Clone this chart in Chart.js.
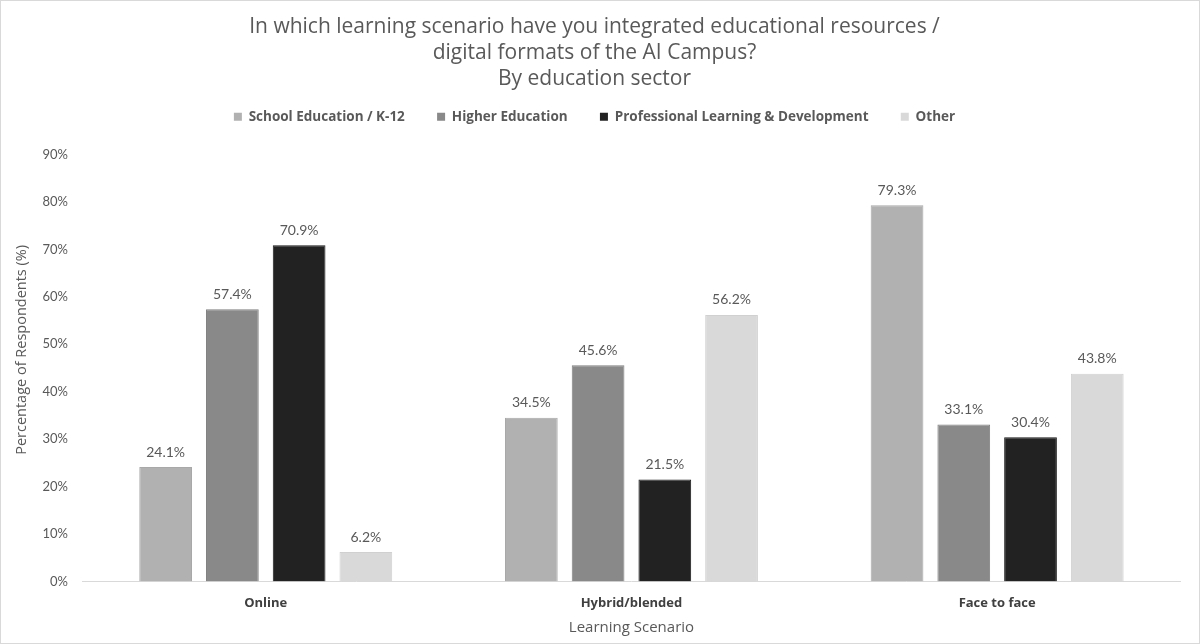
<!DOCTYPE html>
<html>
<head>
<meta charset="utf-8">
<script src="https://cdn.jsdelivr.net/npm/chart.js@4.4.0/dist/chart.umd.min.js"></script>
<style>
  html, body { margin: 0; padding: 0; background: #fff; }
  #frame { width: 1200px; height: 644px; box-sizing: border-box; border: 1px solid #d9d9d9; }
  #box { position: relative; width: 1198px; height: 642px; }
</style>
</head>
<body>
<div id="frame"><div id="box"><canvas id="chart"></canvas></div></div>
<script>
const scenarios = ['Online', 'Hybrid/blended', 'Face to face'];
const sectors = ['School Education / K-12', 'Higher Education', 'Professional Learning & Development', 'Other'];
const schoolValues = [24.1, 34.5, 79.3];
const higherValues = [57.4, 45.6, 33.1];
const professionalValues = [70.9, 21.5, 30.4];
const otherValues = [6.2, 56.2, 43.8];
const yTicks = [0, 10, 20, 30, 40, 50, 60, 70, 80, 90];

const fills = ['#b1b1b1', '#898989', '#222222', '#d9d9d9'];
const edges = ['#a8a8a8', '#808080', '#1a1a1a', '#d0d0d0'];
const TEXT_FONT = '"Open Sans"';
const NUM_FONT = 'Lato';

const valueLabels = {
    id: 'valueLabels',
    afterDatasetsDraw(chart) {
        const ctx = chart.ctx;
        ctx.save();
        ctx.font = '14px ' + NUM_FONT;
        ctx.fillStyle = '#595959';
        ctx.textAlign = 'center';
        ctx.textBaseline = 'middle';
        chart.data.datasets.forEach((ds, i) => {
            chart.getDatasetMeta(i).data.forEach((bar, j) => {
                ctx.fillText(ds.data[j].toFixed(1) + '%', bar.x, bar.y - 15);
            });
        });
        ctx.restore();
    }
};

// extra room under the legend row
const legendSpace = {
    id: 'legendSpace',
    beforeInit(chart) {
        const fit = chart.legend.fit;
        chart.legend.fit = function () {
            fit.call(this);
            this.height += 21;
        };
    }
};

const gap = '\u2002\u2002\u2002';
const lead = '\u2002\u2002\u2002\u2002\u2002';

const ctx = document.getElementById('chart').getContext('2d');
const myChart = new Chart(ctx, {
    type: 'bar',
    data: {
        labels: scenarios,
        datasets: [schoolValues, higherValues, professionalValues, otherValues].map((vals, i) => ({
            label: sectors[i],
            data: vals,
            backgroundColor: fills[i],
            borderColor: edges[i],
            borderWidth: 1,
            categoryPercentage: 0.73,
            barPercentage: 0.79
        }))
    },
    options: {
        responsive: true,
        maintainAspectRatio: false,
        animation: false,
        layout: { padding: { left: 8, right: 19, top: 0, bottom: 6 } },
        plugins: {
            title: {
                display: true,
                text: ['In which learning scenario have you integrated educational resources /',
                       'digital formats of the AI Campus?', 'By education sector'],
                color: '#595959',
                font: { family: TEXT_FONT, size: 21, weight: 'normal', lineHeight: 1.24 },
                padding: { top: 13, bottom: 6 }
            },
            legend: {
                position: 'top',
                labels: {
                    color: '#595959',
                    font: { family: TEXT_FONT, size: 13.5, weight: 'bold' },
                    boxWidth: 8,
                    boxHeight: 8,
                    padding: 12,
                    generateLabels(chart) {
                        const items = Chart.defaults.plugins.legend.labels.generateLabels(chart);
                        items.forEach((it, i) => {
                            it.lineWidth = 0;
                            if (i < items.length - 1) it.text = it.text + gap;
                        });
                        return items;
                    }
                }
            },
            tooltip: { enabled: false }
        },
        scales: {
            x: {
                grid: { display: false, drawTicks: false },
                border: { display: true, color: '#d9d9d9', width: 1 },
                afterFit(scale) { scale.height -= 13; },
                ticks: {
                    color: '#404040',
                    font: { family: TEXT_FONT, size: 13, weight: 'bold' },
                    padding: 14
                },
                title: {
                    display: true,
                    text: 'Learning Scenario',
                    color: '#595959',
                    font: { family: TEXT_FONT, size: 15 },
                    padding: { top: 7, bottom: 0 }
                }
            },
            y: {
                min: 0,
                max: 90,
                grid: { display: false, drawTicks: false },
                border: { display: false },
                afterBuildTicks(scale) {
                    scale.ticks = yTicks.map(v => ({ value: v }));
                },
                afterFit(scale) { scale.width -= 7; },
                ticks: {
                    color: '#595959',
                    font: { family: NUM_FONT, size: 13 },
                    padding: 15,
                    callback: value => value + '%'
                },
                title: {
                    display: true,
                    text: lead + 'Percentage of Respondents (%)',
                    color: '#595959',
                    font: { family: TEXT_FONT, size: 14.5 },
                    padding: { top: 4, bottom: 4 }
                }
            }
        }
    },
    plugins: [valueLabels, legendSpace]
});
</script>
</body>
</html>
